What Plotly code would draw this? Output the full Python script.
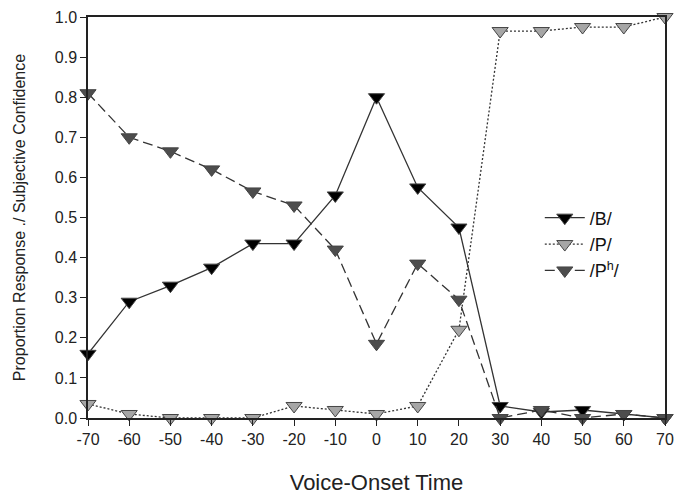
import plotly.graph_objects as go

vot = [-70, -60, -50, -40, -30, -20, -10, 0, 10, 20, 30, 40, 50, 60, 70]
b_vals = [0.16, 0.29, 0.33, 0.375, 0.435, 0.435, 0.555, 0.80, 0.575, 0.475, 0.03, 0.015, 0.02, 0.01, 0.0]
p_vals = [0.035, 0.01, 0.0, 0.0, 0.0, 0.03, 0.02, 0.01, 0.03, 0.22, 0.965, 0.965, 0.975, 0.975, 1.0]
ph_vals = [0.81, 0.70, 0.665, 0.62, 0.565, 0.53, 0.42, 0.185, 0.385, 0.295, 0.0, 0.02, 0.0, 0.01, 0.0]
y_ticks = [0.0, 0.1, 0.2, 0.3, 0.4, 0.5, 0.6, 0.7, 0.8, 0.9, 1.0]

series = [
    ("/B/", b_vals, "solid", "#000000"),
    ("/P/", p_vals, "2px,2px", "#a6a6a6"),
    ("/P<sup>h</sup>/", ph_vals, "10px,5px", "#4d4d4d"),
]

fig = go.Figure()
for name, vals, dash, fill in series:
    fig.add_trace(go.Scatter(
        x=vot, y=vals, name=name, mode="lines+markers",
        line=dict(color="#333333", width=1.3, dash=dash),
        marker=dict(symbol="triangle-down", size=14, color=fill,
                    line=dict(color="#444444", width=1)),
        cliponaxis=False,
    ))

font_family = "Liberation Sans, Arial, sans-serif"
fig.update_layout(
    width=675, height=497,
    margin=dict(l=88, r=10, t=17, b=79),
    paper_bgcolor="white", plot_bgcolor="white",
    font=dict(family=font_family, color="#222222"),
    showlegend=True,
    legend=dict(x=0.783, y=0.545, xanchor="left", yanchor="top",
                font=dict(size=18, color="#111111"),
                bgcolor="rgba(0,0,0,0)", itemwidth=40, tracegroupgap=0),
)
fig.update_xaxes(
    range=[-70, 70], tickvals=vot, ticktext=[str(v) for v in vot],
    showgrid=False, zeroline=False, showline=True, linecolor="#222222", linewidth=1.5,
    mirror=True, ticks="outside", ticklen=6, tickcolor="#222222", automargin=False,
    tickfont=dict(size=16, color="#222222"),
    title=dict(text="Voice-Onset Time", font=dict(size=22, color="#222222"), standoff=28),
)
fig.update_yaxes(
    range=[0, 1.0], tickvals=y_ticks, ticktext=[f"{v:.1f}" for v in y_ticks],
    showgrid=False, zeroline=False, showline=True, linecolor="#222222", linewidth=1.5,
    mirror=True, ticks="outside", ticklen=6, tickcolor="#222222", automargin=False,
    tickfont=dict(size=16, color="#222222"),
    title=dict(text="Proportion Response ./ Subjective Confidence",
               font=dict(size=16, color="#222222"), standoff=25),
)

fig.write_html("out.html")
